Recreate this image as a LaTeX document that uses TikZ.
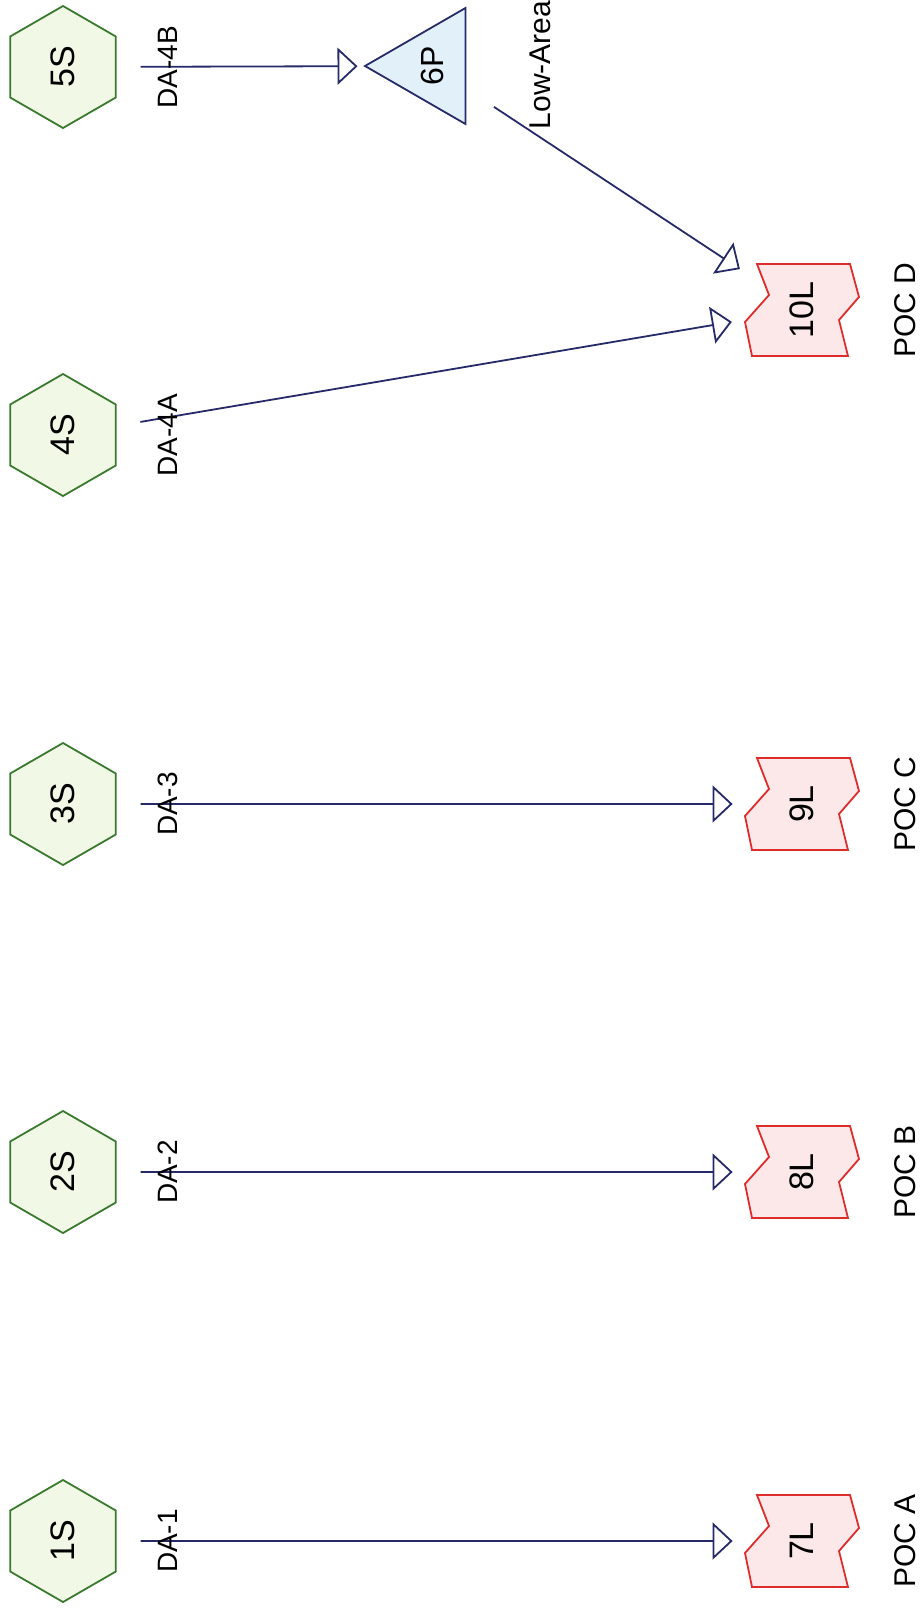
\documentclass[tikz,border=0pt]{standalone}
\usepackage{fontspec}
\setmainfont{Liberation Sans}
\usetikzlibrary{shapes.geometric, arrows.meta}
\definecolor{flowblue}{RGB}{38,42,104}
\definecolor{srcgreen}{RGB}{58,122,46}
\definecolor{srcfill}{RGB}{241,248,230}
\definecolor{pondfill}{RGB}{226,240,250}
\definecolor{locred}{RGB}{222,44,44}
\definecolor{locfill}{RGB}{253,232,233}

\begin{document}
\begin{tikzpicture}[x=0.5pt, y=-0.5pt,
	every node/.style={font=\fontsize{15}{18}\selectfont, rotate=90},
	srcnode/.style={regular polygon, regular polygon sides=6, minimum size=61pt, inner sep=0pt, draw=srcgreen, fill=srcfill, line width=0.9pt, font=\fontsize{17}{20}\selectfont},
	pondnode/.style={regular polygon, regular polygon sides=3, minimum size=67pt, inner sep=0pt, draw=flowblue, fill=pondfill, line width=0.9pt, font=\fontsize{16}{19}\selectfont},
	locnode/.style={rectangle, minimum width=46pt, minimum height=50pt, inner sep=0pt, font=\fontsize{17}{20}\selectfont},
	loccell/.style={draw=locred, fill=locfill, line width=0.9pt},
	flow/.style={draw=flowblue, line width=0.9pt, -{Triangle[open, length=10pt, width=18.5pt, line width=0.9pt]}},
	dalabel/.style={font=\fontsize{14}{16}\selectfont}
]
	\useasboundingbox (0,0) rectangle (923,1612);

	% sources
	\foreach \k/\y in {1/1541, 2/1172, 3/804, 4/435, 5/67}
		\node[srcnode] (s\k) at (63,\y) {\k S};

	% pond
	\node[pondnode] (p6) at (432,66) {6P};

	% points of concern
	\foreach \k/\y/\poc in {7/1541/A, 8/1172/B, 9/804/C, 10/310/D} {
		\filldraw[loccell, shift={(802,\y)}] (-45,-46) -- (-33,-15) -- (-57,12) -- (-50,46) -- (46,46) -- (37,10) -- (57,-13) -- (48,-46) -- cycle;
		\node[locnode] (l\k) at (802,\y) {\k L};
		\node (poc\poc) at (905,\y) {POC \poc};
	}

	\foreach \a/\b in {1/7, 2/8, 3/9}
		\draw[flow, shorten <=12pt, shorten >=9.5pt] (s\a) -- (l\b);
	\draw[flow, shorten <=12pt, shorten >=10pt] (s4) -- (l10);
	\draw[flow, shorten <=12pt, shorten >=3pt] (s5) -- (p6);
	\draw[flow, shorten <=16.5pt, shorten >=7pt] (p6) -- (l10);

	\node[dalabel] (da1) at (168,1541) {DA-1};
	\node[dalabel] (da2) at (168,1172) {DA-2};
	\node[dalabel] (da3) at (168,804) {DA-3};
	\node[dalabel] (da4a) at (168,435) {DA-4A};
	\node[dalabel] (da4b) at (168,67) {DA-4B};
	\node (lowarea) at (540,65) {Low-Area};

\end{tikzpicture}
\end{document}
